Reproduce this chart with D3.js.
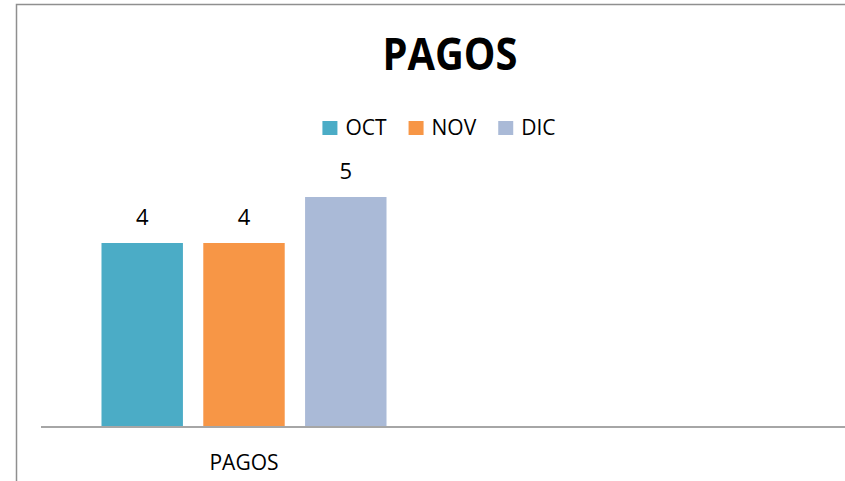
<!DOCTYPE html>
<html>
<head>
<meta charset="utf-8">
<script src="https://cdn.jsdelivr.net/npm/d3@7"></script>
<style>
  body { margin: 0; background: #fff; }
  svg text { font-family: "Open Sans", "Liberation Sans", sans-serif; fill: #000; }
</style>
</head>
<body>
<div id="chart"></div>
<script>
const categories = ["PAGOS"];
const seriesNames = ["OCT", "NOV", "DIC"];
const seriesValues = [4, 4, 5];
const seriesColors = ["#4bacc6", "#f79646", "#aabad7"];
const titleText = "PAGOS";

const width = 845, height = 481;
const margin = { left: 41, right: 0, top: 151, bottom: 54 };

const svg = d3.select('#chart').append('svg')
    .attr('width', width)
    .attr('height', height);

// outer frame of the chart area (runs past right/bottom edge)
svg.append('rect')
    .attr('x', 16.5).attr('y', 4.5)
    .attr('width', 840).attr('height', 490)
    .attr('fill', 'none')
    .attr('stroke', '#8f8f8f')
    .attr('stroke-width', 1.5);

// title
svg.append('text')
    .attr('x', 450).attr('y', 70)
    .attr('text-anchor', 'middle')
    .attr('font-size', 44)
    .attr('font-weight', 'bold')
    .attr('textLength', 135)
    .attr('lengthAdjust', 'spacingAndGlyphs')
    .text(titleText);

const x0 = d3.scaleBand()
    .domain(categories)
    .range([margin.left, 447]);
const x1 = d3.scaleBand()
    .domain(seriesNames)
    .range([x0.bandwidth() * 0.149, x0.bandwidth() * 0.851])
    .paddingInner(0.2);
const y = d3.scaleLinear()
    .domain([0, 6])
    .range([height - margin.bottom, margin.top]);

const g = svg.append('g');
const rows = seriesNames.map((s, i) => ({ name: s, value: seriesValues[i], color: seriesColors[i], cat: categories[0] }));

g.selectAll('.bar')
    .data(rows)
    .enter()
    .append('rect')
    .attr('class', 'bar')
    .attr('x', d => x0(d.cat) + x1(d.name))
    .attr('y', d => y(d.value))
    .attr('width', x1.bandwidth())
    .attr('height', d => y(0) - y(d.value))
    .attr('fill', d => d.color);

g.selectAll('.val')
    .data(rows)
    .enter()
    .append('text')
    .attr('class', 'val')
    .attr('x', d => x0(d.cat) + x1(d.name) + x1.bandwidth() / 2)
    .attr('y', d => y(d.value) - 18)
    .attr('text-anchor', 'middle')
    .attr('font-size', 22)
    .text(d => d.value);

// baseline axis
svg.append('line')
    .attr('x1', margin.left).attr('x2', width)
    .attr('y1', y(0)).attr('y2', y(0))
    .attr('stroke', '#a6a6a6')
    .attr('stroke-width', 1.8);

svg.selectAll('.cat')
    .data(categories)
    .enter()
    .append('text')
    .attr('class', 'cat')
    .attr('x', d => x0(d) + x0.bandwidth() / 2)
    .attr('y', 470)
    .attr('text-anchor', 'middle')
    .attr('font-size', 21)
    .text(d => d);

// legend
const legend = svg.append('g');
let lx = 0;
seriesNames.forEach((s, i) => {
    const item = legend.append('g').attr('transform', `translate(${lx},0)`);
    item.append('rect')
        .attr('x', 0).attr('y', 121)
        .attr('width', 15).attr('height', 14)
        .attr('fill', seriesColors[i]);
    const t = item.append('text')
        .attr('x', 23).attr('y', 135)
        .attr('font-size', 21)
        .text(s);
    lx += 23 + t.node().getComputedTextLength() + 22;
});
const legendWidth = lx - 22;
legend.attr('transform', `translate(${439 - legendWidth / 2},0)`);
</script>
</body>
</html>
